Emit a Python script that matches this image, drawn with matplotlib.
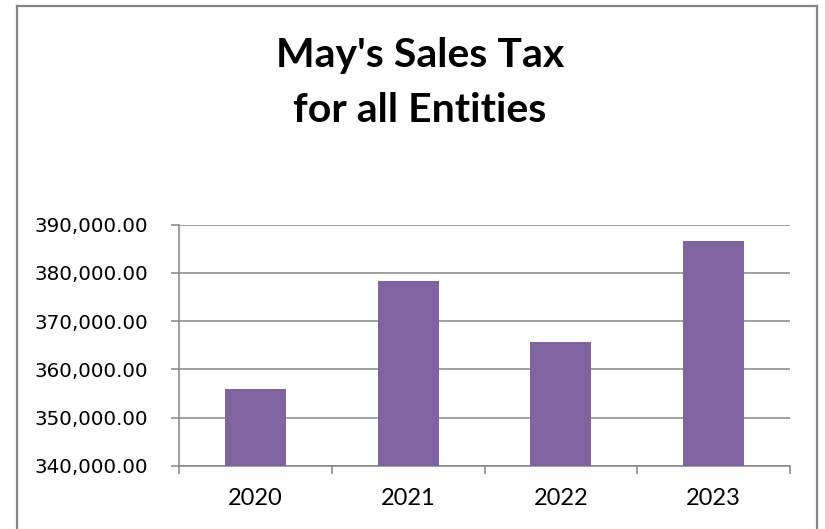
import numpy as np
import matplotlib
matplotlib.use("Agg")
import matplotlib.pyplot as plt
from matplotlib.lines import Line2D

# data
years = ["2020", "2021", "2022", "2023"]
sales_tax = [355900, 378300, 365650, 386700]
y_ticks = [340000, 350000, 360000, 370000, 380000, 390000]

W, H = 825, 529
bar_color = "#8064A2"
grey = "#868686"

fig = plt.figure(figsize=(W / 100, H / 100), dpi=100)
ax = fig.add_axes([179 / W, 1 - 466 / H, (790 - 179) / W, (466 - 224.7) / H])

x = np.arange(len(years))
ax.bar(x, sales_tax, width=0.4, color=bar_color, zorder=3)

ax.set_xlim(-0.5, len(years) - 0.5)
ax.set_ylim(y_ticks[0], y_ticks[-1])
ax.set_yticks(y_ticks)
ax.set_yticklabels([f"{v:,.2f}" for v in y_ticks], fontsize=14.3, family="DejaVu Sans")
ax.set_xticks(x)
ax.set_xticklabels(years, fontsize=17, family="Lato")
ax.set_xticks(np.arange(len(years) + 1) - 0.5, minor=True)

ax.tick_params(axis="x", which="major", length=0, pad=16)
ax.tick_params(axis="x", which="minor", length=5.5, width=1.1, color=grey, direction="out")
ax.tick_params(axis="y", length=6, width=1.1, color=grey, direction="out", pad=16)

ax.grid(axis="y", color=grey, linewidth=1.1, zorder=0)
for side in ["top", "right"]:
    ax.spines[side].set_visible(False)
for side in ["left", "bottom"]:
    ax.spines[side].set_color(grey)
    ax.spines[side].set_linewidth(1.1)

# title, two lines
fig.text(420 / W, 1 - 66.7 / H, "May's Sales Tax", ha="center", va="baseline",
         fontsize=29.5, fontweight="bold", family="Lato")
fig.text(420 / W, 1 - 121.7 / H, "for all Entities", ha="center", va="baseline",
         fontsize=29.5, fontweight="bold", family="Lato")

# chart frame (bottom edge is cut off in the reference)
fl, fr, ft = 17 / W, 817 / W, 1 - 6 / H
for xs, ys in [([fl, fl], [0, ft]), ([fl, fr], [ft, ft]), ([fr, fr], [ft, 0])]:
    fig.add_artist(Line2D(xs, ys, transform=fig.transFigure, color=grey, linewidth=1.6))

fig.savefig("out.png", dpi=100)
